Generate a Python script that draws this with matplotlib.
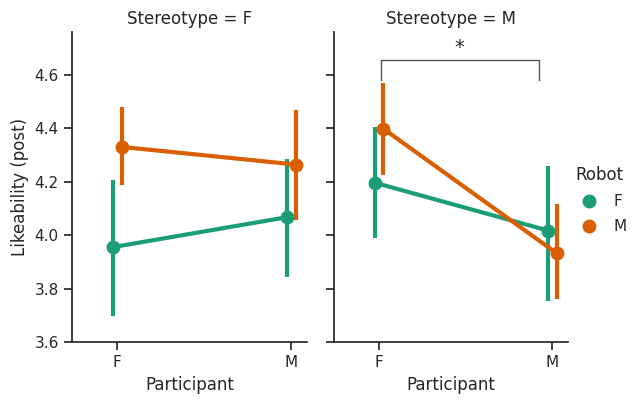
import numpy as np
import matplotlib.pyplot as plt
from matplotlib.lines import Line2D

# dati
stereotipi = ['F', 'M']
partecipanti = ['F', 'M']
robot = ['F', 'M']
colori = {'F': '#1b9e77', 'M': '#d95f02'}

# medie per stereotipo -> robot -> [partecipante F, partecipante M]
medie = {
    'F': {'F': [3.955, 4.067], 'M': [4.330, 4.264]},
    'M': {'F': [4.196, 4.017], 'M': [4.398, 3.932]},
}
ci_basso = {
    'F': {'F': [3.697, 3.842], 'M': [4.188, 4.057]},
    'M': {'F': [3.988, 3.754], 'M': [4.225, 3.760]},
}
ci_alto = {
    'F': {'F': [4.207, 4.285], 'M': [4.479, 4.469]},
    'M': {'F': [4.404, 4.257], 'M': [4.569, 4.116]},
}
dodge = {'F': -0.025, 'M': 0.025}

testo = '#262626'
plt.rcParams['font.family'] = 'DejaVu Sans'
plt.rcParams['text.color'] = testo
plt.rcParams['axes.labelcolor'] = testo
plt.rcParams['xtick.color'] = testo
plt.rcParams['ytick.color'] = testo

fig = plt.figure(figsize=(6.33, 4.0), dpi=100)
ax1 = fig.add_axes([0.1137, 0.145, 0.3713, 0.775])
ax2 = fig.add_axes([0.5276, 0.145, 0.3697, 0.775], sharey=ax1)
assi = [ax1, ax2]

x = np.arange(len(partecipanti))
for ax, st in zip(assi, stereotipi):
    for r in robot:
        xs = x + dodge[r]
        ax.plot(xs, medie[st][r], color=colori[r], lw=3, marker='o', ms=9, zorder=3)
        ax.vlines(xs, ci_basso[st][r], ci_alto[st][r], color=colori[r], lw=3, zorder=2)
    ax.set_title(f'Stereotype = {st}', fontsize=12)
    ax.set_xticks(x)
    ax.set_xticklabels(partecipanti)
    ax.set_xlim(-0.26, 1.09)
    ax.set_xlabel('Participant', fontsize=12)
    ax.tick_params(labelsize=11, length=6, width=1.25)
    for s in ['top', 'right']:
        ax.spines[s].set_visible(False)
    for s in ['left', 'bottom']:
        ax.spines[s].set_linewidth(1.25)
        ax.spines[s].set_color(testo)

ax1.set_ylim(3.6, 4.76)
ax1.set_yticks([3.6, 3.8, 4.0, 4.2, 4.4, 4.6])
ax1.set_ylabel('Likeability (post)', fontsize=12)
plt.setp(ax2.get_yticklabels(), visible=False)

# parentesi di significatività
ax2.plot([0.01, 0.01, 0.925, 0.925], [4.58, 4.654, 4.654, 4.58], color='#555555', lw=1)
ax2.text(0.465, 4.665, '*', ha='center', va='bottom', fontsize=14)

maniglie = [Line2D([], [], color=colori[r], marker='o', ls='', ms=9) for r in robot]
fig.legend(maniglie, robot, title='Robot', loc='center left',
           bbox_to_anchor=(0.884, 0.5), frameon=False, fontsize=11, title_fontsize=12,
           handletextpad=0.6, labelspacing=0.65)

fig.savefig('out.png', dpi=100)
